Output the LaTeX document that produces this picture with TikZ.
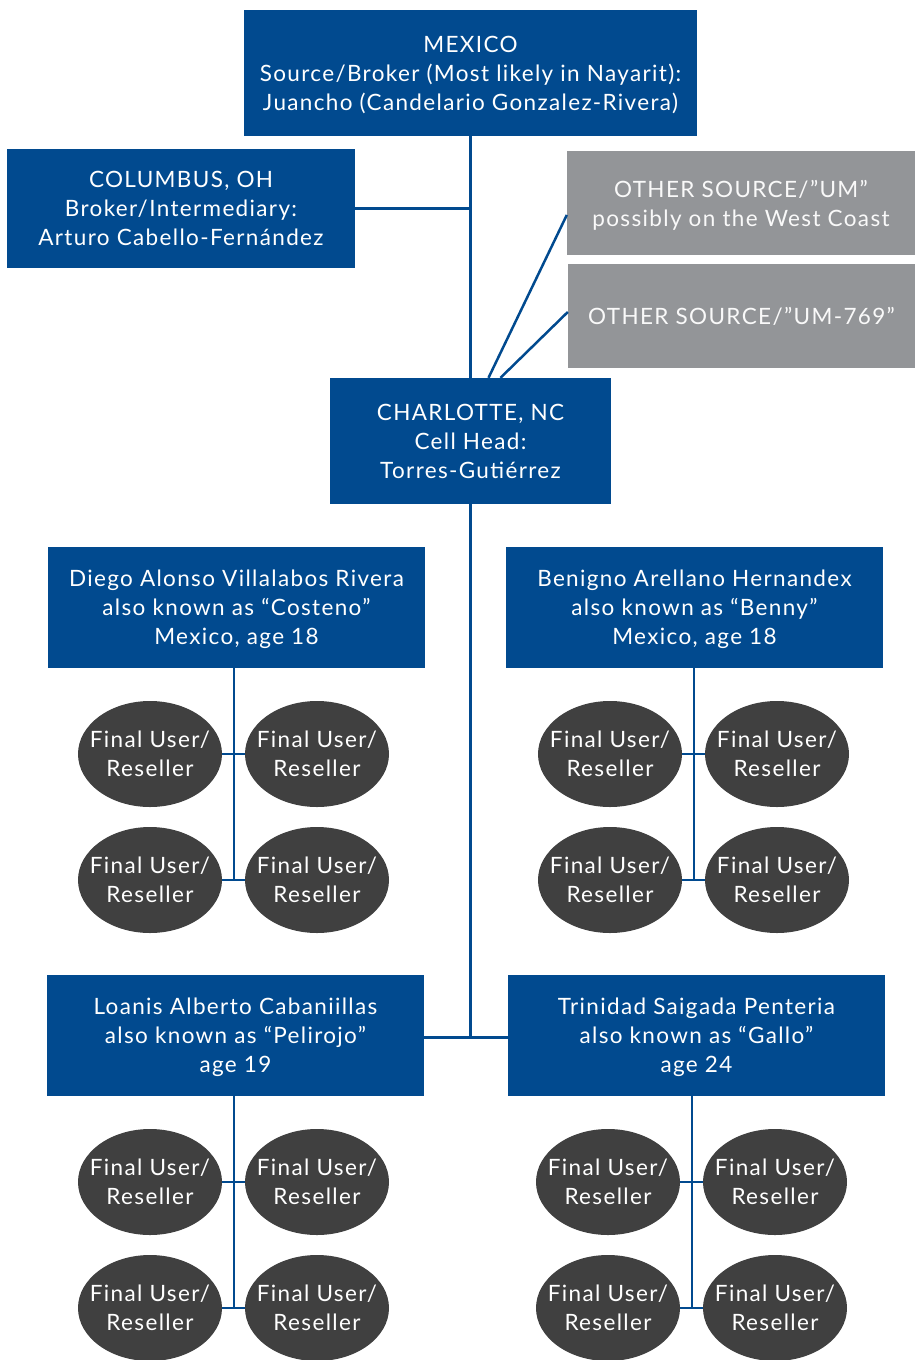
\documentclass[tikz,border=0pt]{standalone}
\usepackage{fontspec}
\setmainfont[LetterSpace = 6]{Lato}

\definecolor{cellblue}{HTML}{014A8F}
\definecolor{srcgray}{HTML}{939598}
\definecolor{userdark}{HTML}{404040}

\tikzset{
	cell/.style = {fill = cellblue, text = white, inner sep = 0, align = center,
		text depth = -3pt, font = \fontsize{22.5}{29}\selectfont},
	source/.style = {cell, fill = srcgray, text = white!94!srcgray},
	user/.style = {ellipse, fill = userdark, text = white, inner xsep = -14pt, inner ysep = 0,
		minimum width = 144, minimum height = 106, align = center,
		text depth = -6pt, font = \fontsize{22.5}{29}\selectfont},
	link/.style = {draw = cellblue, line width = 2.5pt}
}

\usetikzlibrary{shapes.geometric}

\begin{document}
\begin{tikzpicture}[x = 1pt, y = -1pt]

	\useasboundingbox (0, 0) rectangle (915, 1360);
	\clip (0, 0) rectangle (915, 1360);

	% Source, broker and cell head boxes

	\node [cell, minimum width = 453, minimum height = 126] (mexico) at (470.5, 73)
		{MEXICO\\Source/Broker (Most likely in Nayarit):\\Juancho (Candelario Gonzalez-Rivera)};
	\node [cell, minimum width = 348, minimum height = 119] (columbus) at (181, 208.5)
		{COLUMBUS, OH\\Broker/Intermediary:\\Arturo Cabello-Fernández};
	\node [source, minimum width = 348, minimum height = 104] (um) at (741, 203)
		{OTHER SOURCE/”UM”\\possibly on the West Coast};
	\node [source, minimum width = 347, minimum height = 104] (um769) at (741.5, 316)
		{OTHER SOURCE/”UM-769”};
	\node [cell, minimum width = 281, minimum height = 126] (charlotte) at (470.5, 441)
		{CHARLOTTE, NC\\Cell Head:\\Torres-Gutiérrez};

	\draw [link] (mexico.south) -- (charlotte.north);
	\draw [link] (columbus.east) -- (columbus.east -| mexico.south);
	\draw [link] ([xshift = 18pt] charlotte.north) -- ([yshift = -12pt] um.west);
	\draw [link] ([xshift = 30pt] charlotte.north) -- ([yshift = 4pt] um769.west);

	% Cell members

	\node [cell, minimum width = 377, minimum height = 121] (diego) at (236.5, 607.5)
		{Diego Alonso Villalabos Rivera\\also known as “Costeno”\\Mexico, age 18};
	\node [cell, minimum width = 377, minimum height = 121] (benigno) at (694.5, 607.5)
		{Benigno Arellano Hernandex\\also known as “Benny”\\Mexico, age 18};
	\node [cell, minimum width = 377, minimum height = 121] (loanis) at (235.5, 1035.5)
		{Loanis Alberto Cabaniillas\\also known as “Pelirojo”\\age 19};
	\node [cell, minimum width = 377, minimum height = 121] (trinidad) at (696.5, 1035.5)
		{Trinidad Saigada Penteria\\also known as “Gallo”\\age 24};

	\draw [link] (charlotte.south) -- ([yshift = -2pt] charlotte.south |- loanis.east);
	\draw [link] ([yshift = -2pt] loanis.east) -- ([yshift = -2pt] trinidad.west);

	% Final users under each member

	\foreach \member / \cx / \top in {diego/234/668, benigno/694/668, loanis/234/1096, trinidad/692/1096}
	{
		\coordinate (\member-hub) at (\cx, \top);
		\node [user] (\member-a) at (\cx - 84, \top + 86) {Final User/\\Reseller};
		\node [user] (\member-b) at (\cx + 83, \top + 86) {Final User/\\Reseller};
		\node [user] (\member-c) at (\cx - 84, \top + 212) {Final User/\\Reseller};
		\node [user] (\member-d) at (\cx + 83, \top + 212) {Final User/\\Reseller};

		\draw [link] (\member-hub) -- (\member-hub |- \member-c.east);
		\draw [link] (\member-a.east) -- (\member-b.west);
		\draw [link] (\member-c.east) -- (\member-d.west);
	}

\end{tikzpicture}
\end{document}
